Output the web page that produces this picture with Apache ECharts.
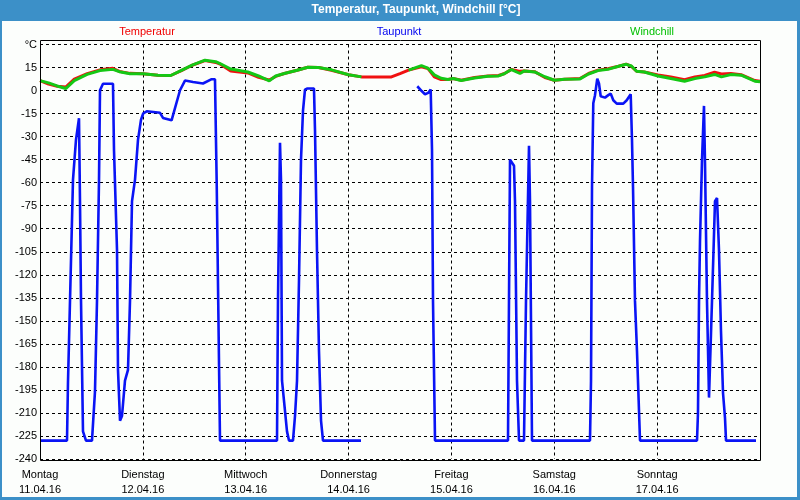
<!DOCTYPE html>
<html>
<head>
<meta charset="utf-8">
<script src="https://cdn.jsdelivr.net/npm/echarts@6/dist/echarts.min.js"></script>
<style>
html,body{margin:0;padding:0;background:#ffffff;}
#c{width:800px;height:500px;}
</style>
</head>
<body>
<div id="c"></div>
<script>
// ---- Data (hours since Monday 11.04.16 00:00) ----
var dayNames = ['Montag','Dienstag','Mittwoch','Donnerstag','Freitag','Samstag','Sonntag'];
var dayDates = ['11.04.16','12.04.16','13.04.16','14.04.16','15.04.16','16.04.16','17.04.16'];

var tempHours = [0,2,4,6,8,11,14,17,18.5,21,24,27.5,30.5,33,35.5,38.5,41,42,44.5,48.5,51,53.5,55,57,60,62.5,65,68,72,75,79,82,84,86,89,90.5,92,93.6,95.2,96.4,98.3,101.4,104.5,107,108.4,110,112,113,115.4,117.8,120,122.4,126,128,130.2,132.5,135,136.8,138,139.2,141,144.2,147.2,150.4,152.8,155.1,157.4,159,161.2,163.6,166.8,168];
var temperatur = [6.5,4.2,2.8,2.3,7.5,11,13.5,14.5,12.5,11.2,11,10,9.8,13,16.5,19.5,18.3,17.3,12.8,11.5,8.6,6.9,9.2,11.1,13.2,15.2,15,13.2,10.3,8.9,8.9,8.9,11,13.3,15.4,14.4,9,7.2,7.2,7.8,6.7,8.5,9.5,9.8,11.1,13.8,12.5,12.8,12.3,8.5,6.7,7.4,7.8,11.1,13.3,14.2,15.8,17.2,15.8,12.6,12.1,10.2,8.8,7,8.9,9.8,12,10.8,11.1,10.3,6.5,6];
var windchill = [6.5,5,3,1.3,6.5,10.5,13,13.8,12.3,11,11,10,9.8,13.2,16.5,19.8,18.8,17.6,14,12.1,9.5,6.3,9.5,11.1,13.2,15.2,15,13.5,10.3,8.9,null,null,null,13.3,16.2,14.6,10.2,8,7.2,7.8,6.5,8.2,9.3,9.5,11.1,13.7,11.1,12.8,12.1,9,6.7,7.4,7.6,10.8,13,13.8,15.8,17.1,16,12.6,12.1,9.5,7.8,6.1,7.8,8.9,10.5,8.9,10.4,10,6.1,5.8];

var dewHours = [0,6.3,6.53,7.0,7.7,8.4,9.1,9.33,9.57,10.03,10.73,12.13,12.83,13.3,13.77,14.0,14.7,17.03,17.27,17.97,18.2,18.67,19.13,19.83,20.53,21.0,21.47,22.17,22.87,23.57,24.1,24.9,28.0,28.7,30.7,31.03,32.67,33.83,35.7,38.03,40.06,40.83,41.23,42.0,42.7,55.3,55.53,56.0,56.23,56.47,56.93,57.63,58.1,59.03,59.5,59.97,60.43,60.9,61.37,61.83,62.3,63.93,64.17,64.63,65.1,65.57,66.03,74.9,80,88.03,89.06,89.83,90.6,91.16,91.47,91.7,92.17,109.2,109.43,109.67,110.6,110.83,111.3,111.77,112.93,113.4,114.1,114.33,114.8,128.33,128.57,128.8,129.1,129.5,130.03,130.43,130.83,131.83,132.6,133.17,133.77,134.57,136.1,136.9,137.83,138.13,138.37,138.83,139.3,140.0,153.3,153.53,153.77,154.0,154.47,154.93,155.17,155.63,156.1,156.33,156.8,157.5,157.97,158.43,158.9,159.37,159.83,160.07,167.07];
var taupunkt = [-228,-228,-190,-137,-58,-32,-18,-72,-137,-222,-228,-228,-196,-137,-58,0.2,4.4,4.4,-39,-104,-182,-215,-212,-189,-182,-137,-72,-58,-32,-19,-14.8,-13.5,-14.5,-17.8,-19.4,-18.5,0.2,6.5,5.6,4.6,7.4,7.4,-60,-228,-228,-228,-137,-34,-58,-189,-202,-222,-228,-228,-212,-189,-124,-45,-13,0.6,1.3,1.3,-26,-104,-170,-215,-228,-228,null,2.8,-0.3,-2.4,-1.5,0.6,-39,-137,-228,-228,-137,-45,-49,-72,-189,-228,-228,-137,-36,-72,-228,-228,-189,-63,-8.3,-3,7.8,4.6,-3.7,-4.6,-3,-2,-6.3,-8.5,-8.5,-6.3,-2.4,-32,-63,-137,-170,-228,-228,-210,-137,-98,-45,-10,-47.5,-137,-200,-200,-137,-72,-70,-104,-157,-197,-213,-228,-228];

function pairs(xs, ys) {
  return xs.map(function (x, i) { return [x, ys[i] === null ? '-' : ys[i]]; });
}

var chart = echarts.init(document.getElementById('c'), null, {renderer: 'canvas'});
var FONT = 'Liberation Sans';

var option = {
  backgroundColor: '#fcfefc',
  animation: false,
  grid: {left: 40, right: 40, top: 44.5, bottom: 41, containLabel: false},
  xAxis: {
    type: 'value', min: 0, max: 168, interval: 24,
    axisLine: {show: false},
    axisTick: {show: true, length: 3, lineStyle: {color: '#000'}},
    splitLine: {show: true, showMinLine: false, showMaxLine: false,
      lineStyle: {color: '#000', type: [3, 3], width: 1}},
    axisLabel: {
      show: true, color: '#000', fontFamily: FONT, fontSize: 11, lineHeight: 15, margin: 8,
      showMaxLabel: false,
      formatter: function (v) {
        var i = Math.round(v / 24);
        return dayNames[i] ? dayNames[i] + '\n' + dayDates[i] : '';
      }
    }
  },
  yAxis: {
    type: 'value', min: -240, max: 30, interval: 15,
    axisLine: {show: false},
    axisTick: {show: false},
    splitLine: {show: true, lineStyle: {color: '#000', type: [3, 3], width: 1}},
    axisLabel: {
      color: '#000', fontFamily: FONT, fontSize: 11, margin: 3,
      formatter: function (v) { return v === 30 ? '°C' : String(v); }
    }
  },
  series: [
    {name: 'Taupunkt', type: 'line', showSymbol: false, symbol: 'none', connectNulls: false,
     lineStyle: {color: '#0a14f5', width: 2.6}, itemStyle: {color: '#0a14f5'},
     data: pairs(dewHours, taupunkt), z: 3},
    {name: 'Temperatur', type: 'line', showSymbol: false, symbol: 'none',
     lineStyle: {color: '#f01010', width: 3}, itemStyle: {color: '#f01010'},
     data: pairs(tempHours, temperatur), z: 4},
    {name: 'Windchill', type: 'line', showSymbol: false, symbol: 'none', connectNulls: false,
     lineStyle: {color: '#14c814', width: 3}, itemStyle: {color: '#14c814'},
     data: pairs(tempHours, windchill), z: 5}
  ],
  graphic: [
    {type: 'rect', shape: {x: 0, y: 0, width: 800, height: 21}, style: {fill: '#3c90c8'}, z: 10},
    {type: 'rect', shape: {x: 0, y: 0, width: 2, height: 500}, style: {fill: '#3c90c8'}, z: 10},
    {type: 'rect', shape: {x: 797, y: 0, width: 3, height: 500}, style: {fill: '#3c90c8'}, z: 10},
    {type: 'rect', shape: {x: 0, y: 497, width: 800, height: 3}, style: {fill: '#3c90c8'}, z: 10},
    {type: 'text', x: 416, y: 10, style: {text: 'Temperatur, Taupunkt, Windchill [°C]', fill: '#ffffff',
      font: 'bold 12px "Liberation Sans"', textAlign: 'center', textVerticalAlign: 'middle'}, z: 11},
    {type: 'text', x: 147, y: 32, style: {text: 'Temperatur', fill: '#f00000',
      font: '11px "Liberation Sans"', textAlign: 'center', textVerticalAlign: 'middle'}, z: 11},
    {type: 'text', x: 399, y: 32, style: {text: 'Taupunkt', fill: '#0000f0',
      font: '11px "Liberation Sans"', textAlign: 'center', textVerticalAlign: 'middle'}, z: 11},
    {type: 'text', x: 652, y: 32, style: {text: 'Windchill', fill: '#00c000',
      font: '11px "Liberation Sans"', textAlign: 'center', textVerticalAlign: 'middle'}, z: 11},
    {type: 'rect', shape: {x: 40.5, y: 40.5, width: 720, height: 420}, style: {fill: 'none', stroke: '#000', lineWidth: 1}, z: 9}
  ]
};
chart.setOption(option);
</script>
</body>
</html>
